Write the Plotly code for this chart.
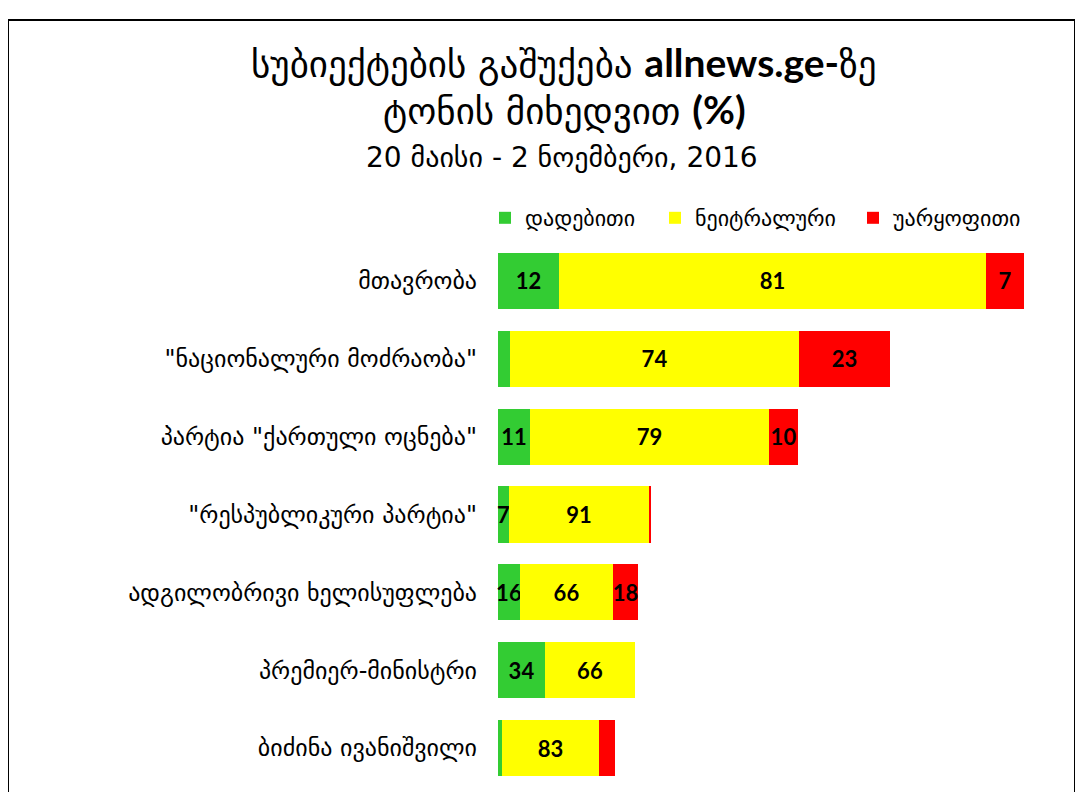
import plotly.graph_objects as go

categories = [
    "მთავრობა",
    "\"ნაციონალური მოძრაობა\"",
    "პარტია \"ქართული ოცნება\"",
    "\"რესპუბლიკური პარტია\"",
    "ადგილობრივი ხელისუფლება",
    "პრემიერ-მინისტრი",
    "ბიძინა ივანიშვილი",
]
series_names = ["დადებითი", "ნეიტრალური", "უარყოფითი"]
# segment sizes (coverage volume, arbitrary units)
positive = [61, 12, 32, 11, 22, 47, 4]
neutral = [427, 289, 239, 140, 93, 90, 97]
negative = [38, 91, 29, 2, 25, 0, 16]
# percentage labels shown on the bars
positive_pct = ["12", "", "11", "7", "16", "34", ""]
neutral_pct = ["81", "74", "79", "91", "66", "66", "83"]
negative_pct = ["7", "23", "10", "", "18", "", ""]
colors = ["#33cc33", "#ffff00", "#ff0000"]

OFF = 8  # page margin of the browser
W, H = 1075, 784
L, R, T, B = 490, 25, 234, 5
pw = W - L - R
ph = H - T - B

def px_x(x):
    return (x - OFF - L) / pw

def px_y(y):
    return (H - B - (y - OFF)) / ph

legend_ids = ["legend", "legend2", "legend3"]
legend_x = [485, 655, 853]

fig = go.Figure()
for name, vals, labels, col, lid in zip(series_names, [positive, neutral, negative],
                                        [positive_pct, neutral_pct, negative_pct], colors, legend_ids):
    fig.add_trace(go.Bar(
        y=categories, x=vals, name=name, orientation="h",
        marker=dict(color=col, line=dict(width=0)),
        text=labels, textposition="inside", insidetextanchor="middle",
        textangle=0, constraintext="none",
        textfont=dict(family="Lato", size=22, color="black", weight="bold"),
        cliponaxis=False, legend=lid,
    ))

legend_common = dict(orientation="h", yanchor="middle", xanchor="left", y=px_y(218),
                     font=dict(family="DejaVu Sans", size=22, color="black"),
                     bgcolor="rgba(0,0,0,0)")

fig.update_layout(
    width=W, height=H,
    barmode="stack", bargap=0.28,
    margin=dict(l=L, r=R, t=T, b=B, autoexpand=False),
    paper_bgcolor="white", plot_bgcolor="white",
    uniformtext=dict(minsize=22, mode="show"),
    xaxis=dict(range=[0, pw], visible=False, showgrid=False, zeroline=False),
    yaxis=dict(autorange="reversed", showgrid=False, zeroline=False, showline=False,
               ticks="", ticklabelstandoff=20,
               tickfont=dict(family="DejaVu Sans", size=24, color="black")),
    showlegend=True,
    legend=dict(x=px_x(legend_x[0]), **legend_common),
    legend2=dict(x=px_x(legend_x[1]), **legend_common),
    legend3=dict(x=px_x(legend_x[2]), **legend_common),
    font=dict(family="DejaVu Sans", color="black"),
)

fig.add_annotation(xref="paper", yref="paper", x=px_x(563), y=px_y(63),
                   text="სუბიექტების გაშუქება <span style='font-family:Lato;font-size:39px'><b>allnews.ge-</b></span>ზე",
                   showarrow=False, xanchor="center", yanchor="middle",
                   font=dict(family="DejaVu Sans", size=37, color="black"))
fig.add_annotation(xref="paper", yref="paper", x=px_x(564), y=px_y(109),
                   text="ტონის მიხედვით <span style='font-family:Lato;font-size:39px'><b>(%)</b></span>",
                   showarrow=False, xanchor="center", yanchor="middle",
                   font=dict(family="DejaVu Sans", size=37, color="black"))
fig.add_annotation(xref="paper", yref="paper", x=px_x(562), y=px_y(157),
                   text="20 მაისი - 2 ნოემბერი, 2016", showarrow=False,
                   xanchor="center", yanchor="middle",
                   font=dict(family="DejaVu Sans", size=28, color="black"))

fig.add_shape(type="rect", xref="paper", yref="paper",
              x0=px_x(8), x1=px_x(1075), y0=px_y(20), y1=px_y(810),
              line=dict(color="black", width=2), fillcolor="rgba(0,0,0,0)", layer="above")

fig.write_html("out.html")
